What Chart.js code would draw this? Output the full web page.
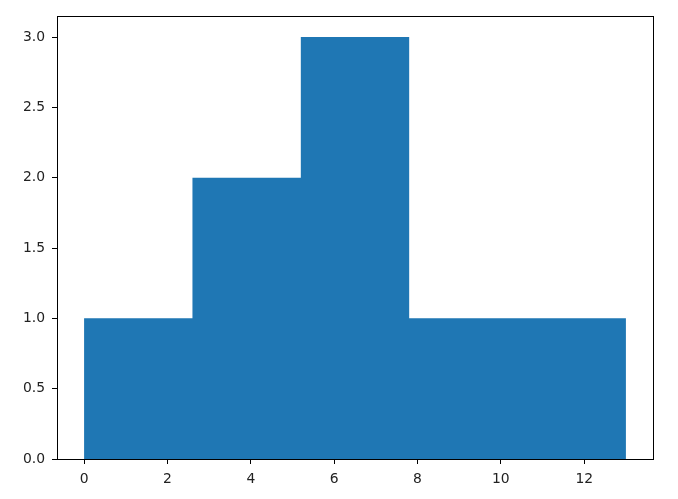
<!DOCTYPE html>
<html>
<head>
<meta charset="utf-8">
<script src="https://cdn.jsdelivr.net/npm/chart.js@4"></script>
<style>
  html, body { margin: 0; padding: 0; background: #fff; }
  #wrap { width: 678px; height: 499px; }
</style>
</head>
<body>
<div id="wrap"><canvas id="hist"></canvas></div>
<script>
// histogram: 5 bins from 0 to 13
const binEdges = [0, 2.6, 5.2, 7.8, 10.4, 13];
const counts = [1, 2, 3, 1, 1];
const xTicks = [0, 2, 4, 6, 8, 10, 12];
const yTicks = [0, 0.5, 1.0, 1.5, 2.0, 2.5, 3.0];

// step outline: each bin starts at its left edge, last edge closes it
const stepData = binEdges.map((e, i) => ({ x: e, y: counts[Math.min(i, counts.length - 1)] }));

const span = binEdges[binEdges.length - 1] - binEdges[0];
const xMin = binEdges[0] - span * 0.05;
const xMax = binEdges[binEdges.length - 1] + span * 0.05;
const yMax = Math.max(...counts) * 1.05;

const font = { family: 'DejaVu Sans', size: 13.9 };

// matplotlib-like box round the axes
const frame = {
  id: 'frame',
  afterDraw(chart) {
    const a = chart.chartArea, ctx = chart.ctx;
    ctx.save();
    ctx.strokeStyle = '#000';
    ctx.lineWidth = 1;
    ctx.strokeRect(Math.round(a.left) + 0.5, Math.round(a.top) + 0.5,
      Math.round(a.right - a.left), Math.round(a.bottom - a.top));
    ctx.restore();
  }
};

new Chart(document.getElementById('hist'), {
  type: 'line',
  data: {
    datasets: [{
      data: stepData,
      stepped: 'before',
      fill: 'origin',
      backgroundColor: '#1f77b4',
      borderColor: '#1f77b4',
      borderWidth: 0,
      pointRadius: 0
    }]
  },
  options: {
    responsive: true,
    maintainAspectRatio: false,
    animation: false,
    layout: { padding: { left: 0, top: 16, right: 25, bottom: 0 } },
    plugins: { legend: { display: false }, tooltip: { enabled: false } },
    scales: {
      x: {
        type: 'linear',
        min: xMin,
        max: xMax,
        afterBuildTicks: s => { s.ticks = xTicks.map(v => ({ value: v })); },
        afterFit: s => { s.height = 40; },
        grid: { drawOnChartArea: false, tickLength: 5, color: '#000' },
        border: { color: '#000' },
        ticks: { color: '#222', font: font, padding: 7, maxRotation: 0 }
      },
      y: {
        min: 0,
        max: yMax,
        afterBuildTicks: s => { s.ticks = yTicks.map(v => ({ value: v })); },
        afterFit: s => { s.width = 57; },
        grid: { drawOnChartArea: false, tickLength: 5, color: '#000' },
        border: { color: '#000' },
        ticks: { color: '#222', font: font, padding: 7, callback: v => v.toFixed(1) }
      }
    }
  },
  plugins: [frame]
});
</script>
</body>
</html>
